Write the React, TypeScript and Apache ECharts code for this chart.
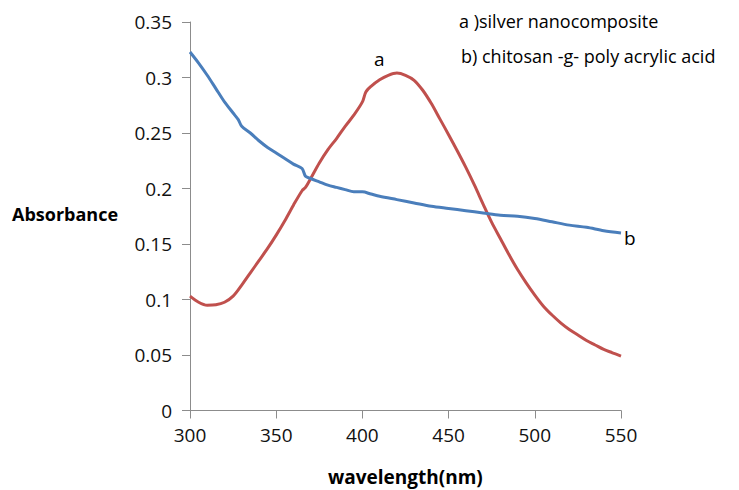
import React, { useEffect, useRef } from "react";
import * as echarts from "echarts";

const wavelengthA = [300, 305, 310, 315, 320, 325, 330, 335, 340, 345, 350, 355, 360, 365, 367, 370, 375, 380, 385, 390, 395, 400, 402, 405, 410, 415, 420, 425, 430, 435, 440, 445, 450, 455, 460, 465, 470, 475, 480, 485, 490, 495, 500, 505, 510, 515, 520, 525, 530, 535, 540, 545, 550];
const absorbanceA = [0.103, 0.0975, 0.0948, 0.0952, 0.0975, 0.103, 0.113, 0.124, 0.135, 0.146, 0.158, 0.171, 0.185, 0.198, 0.201, 0.209, 0.223, 0.235, 0.245, 0.256, 0.266, 0.278, 0.287, 0.292, 0.298, 0.302, 0.304, 0.302, 0.2975, 0.2885, 0.2765, 0.2625, 0.2485, 0.234, 0.219, 0.203, 0.186, 0.1695, 0.155, 0.1405, 0.127, 0.115, 0.104, 0.094, 0.086, 0.079, 0.073, 0.068, 0.063, 0.059, 0.055, 0.052, 0.049];

const wavelengthB = [300, 305, 310, 315, 320, 325, 328, 330, 335, 340, 345, 350, 355, 360, 365, 367, 370, 375, 380, 385, 390, 395, 400, 405, 410, 420, 430, 440, 450, 460, 470, 480, 490, 500, 510, 520, 530, 540, 550];
const absorbanceB = [0.323, 0.313, 0.302, 0.290, 0.278, 0.268, 0.262, 0.256, 0.250, 0.243, 0.237, 0.232, 0.227, 0.222, 0.218, 0.211, 0.209, 0.206, 0.203, 0.201, 0.199, 0.197, 0.197, 0.195, 0.193, 0.190, 0.187, 0.184, 0.182, 0.180, 0.178, 0.176, 0.175, 0.173, 0.170, 0.167, 0.165, 0.162, 0.160];

const legendLines = ["a )silver nanocomposite", "b) chitosan -g- poly acrylic acid"];
const seriesTags = ["a", "b"];

const FONT = "'Open Sans', 'Noto Sans', sans-serif";

export default function App() {
  const ref = useRef<HTMLDivElement>(null);
  useEffect(() => {
    if (!ref.current) return;
    const chart = echarts.init(ref.current, undefined, { renderer: "svg" });
    const toPairs = (xs: number[], ys: number[]) => xs.map((x, i) => [x, ys[i]]);
    chart.setOption({
      animation: false,
      backgroundColor: "#ffffff",
      grid: { left: 190, right: 118, top: 22, bottom: 79.5, containLabel: false },
      xAxis: {
        type: "value",
        min: 300,
        max: 550,
        interval: 50,
        axisLine: { show: true, lineStyle: { color: "#8c8c8c", width: 1 } },
        axisTick: { show: true, length: 8, inside: false, lineStyle: { color: "#8c8c8c" } },
        splitLine: { show: false },
        axisLabel: { color: "#111", fontSize: 19, fontFamily: FONT, margin: 15 },
      },
      yAxis: {
        type: "value",
        min: 0,
        max: 0.35,
        interval: 0.05,
        axisLine: { show: true, lineStyle: { color: "#8c8c8c", width: 1 } },
        axisTick: { show: true, length: 8, inside: false, lineStyle: { color: "#8c8c8c" } },
        splitLine: { show: false },
        axisLabel: { color: "#111", fontSize: 19, fontFamily: FONT, margin: 18 },
      },
      series: [
        {
          name: seriesTags[0],
          type: "line",
          data: toPairs(wavelengthA, absorbanceA),
          showSymbol: false,
          smooth: 0.3,
          lineStyle: { color: "#C0504D", width: 3 },
          itemStyle: { color: "#C0504D" },
        },
        {
          name: seriesTags[1],
          type: "line",
          data: toPairs(wavelengthB, absorbanceB),
          showSymbol: false,
          smooth: 0.3,
          lineStyle: { color: "#4A7EBB", width: 3 },
          itemStyle: { color: "#4A7EBB" },
        },
      ],
      graphic: [
        {
          type: "text",
          left: 12,
          top: 205,
          style: { text: "Absorbance", font: `bold 18px ${FONT}`, fill: "#000" },
        },
        {
          type: "text",
          left: 328,
          top: 467,
          style: { text: "wavelength(nm)", font: `bold 19px ${FONT}`, fill: "#000" },
        },
        {
          type: "text",
          left: 459,
          top: 12,
          style: { text: legendLines[0], font: `18px ${FONT}`, fill: "#000" },
        },
        {
          type: "text",
          left: 461,
          top: 47,
          style: { text: legendLines[1], font: `18px ${FONT}`, fill: "#000" },
        },
        {
          type: "text",
          left: 374,
          top: 49,
          style: { text: seriesTags[0], font: `19px ${FONT}`, fill: "#000" },
        },
        {
          type: "text",
          left: 624,
          top: 228,
          style: { text: seriesTags[1], font: `19px ${FONT}`, fill: "#000" },
        },
      ],
    });
    return () => chart.dispose();
  }, []);
  return <div ref={ref} style={{ width: 739, height: 490, position: "absolute", left: 0, top: 0 }} />;
}
